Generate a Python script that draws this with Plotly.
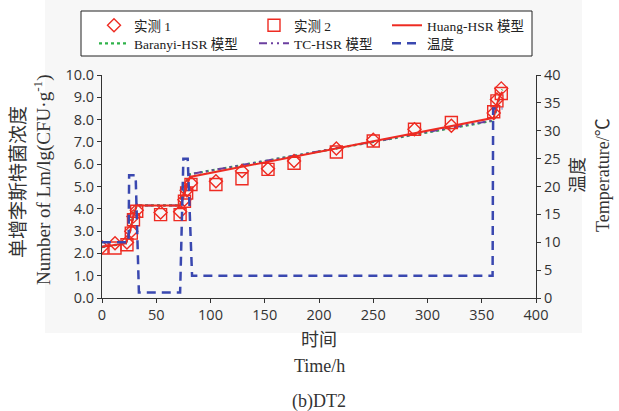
import plotly.graph_objects as go

# ---------------- data ----------------
t_obs = [0, 12, 23, 27, 29, 32, 54, 72, 76, 78, 82, 105, 129, 153, 177, 216, 250, 288, 322, 361, 364, 368]
obs1 = [2.28, 2.46, 2.49, 2.99, 3.66, 3.93, 3.83, 3.87, 4.41, 4.83, 5.16, 5.24, 5.69, 5.80, 6.14, 6.70, 7.10, 7.57, 7.72, 8.30, 8.90, 9.40]
obs2 = [2.24, 2.24, 2.39, 2.91, 3.51, 3.89, 3.74, 3.74, 4.34, 4.71, 5.09, 5.09, 5.35, 5.77, 6.04, 6.55, 7.04, 7.57, 7.87, 8.35, 8.84, 9.17]

t_model = [0, 22, 26, 29, 32, 72, 75, 78, 81, 361, 364, 367, 369]
huang = [2.30, 2.45, 3.00, 3.70, 4.15, 4.15, 4.50, 5.00, 5.43, 8.08, 8.70, 9.10, 9.25]
baranyi = [2.28, 2.45, 3.05, 3.75, 4.15, 4.15, 4.65, 5.25, 5.55, 7.95, 8.60, 9.15, 9.35]
tc = [2.30, 2.45, 3.00, 3.70, 4.15, 4.15, 4.60, 5.20, 5.55, 7.97, 8.60, 9.10, 9.30]

t_temp = [0, 24.5, 25, 31, 34, 72, 75, 79, 83, 360, 360.5, 369]
temp = [10, 10, 22, 22, 1, 1, 25, 25, 4, 4, 34, 34]

x_ticks = [0, 50, 100, 150, 200, 250, 300, 350, 400]

# ---------------- layout helpers (pixel -> paper) ----------------
W, H = 619, 411
L, R, T, B = 102, 83, 75, 113
PW, PH = W - L - R, H - T - B


def px(x):
    return (x - L) / PW


def py(y):
    return (H - B - y) / PH


RED = "#ee2b22"
GREEN = "#2fb24a"
PURPLE = "#6b3fa0"
BLUE = "#3a48b0"
SERIF = "Liberation Serif, Noto Sans CJK SC, serif"
SANS = "Open Sans, Liberation Sans, sans-serif"

fig = go.Figure()

fig.add_trace(go.Scatter(x=t_temp, y=temp, mode="lines", name="温度", yaxis="y2",
                         line=dict(color=BLUE, width=2.5, dash="9px,6px"),
                         legend="legend6"))
fig.add_trace(go.Scatter(x=t_model, y=baranyi, mode="lines", name="Baranyi-HSR 模型",
                         line=dict(color=GREEN, width=2.2, dash="dot"),
                         legend="legend4"))
fig.add_trace(go.Scatter(x=t_model, y=tc, mode="lines", name="TC-HSR 模型",
                         line=dict(color=PURPLE, width=2, dash="8px,4px,2px,4px,2px,4px"),
                         legend="legend5"))
fig.add_trace(go.Scatter(x=t_model, y=huang, mode="lines", name="Huang-HSR 模型",
                         line=dict(color=RED, width=2),
                         legend="legend3"))
fig.add_trace(go.Scatter(x=t_obs, y=obs1, mode="markers", name="实测 1",
                         marker=dict(symbol="diamond-open", size=10, color=RED, line=dict(width=1.4, color=RED)),
                         legend="legend"))
fig.add_trace(go.Scatter(x=t_obs, y=obs2, mode="markers", name="实测 2",
                         marker=dict(symbol="square-open", size=12, color=RED, line=dict(width=1.4, color=RED)),
                         legend="legend2"))

leg_common = dict(xanchor="left", yanchor="top", bgcolor="rgba(0,0,0,0)", borderwidth=0,
                  font=dict(family=SERIF, size=13.5, color="#222"), tracegroupgap=0,
                  orientation="v", itemwidth=30)

axis_common = dict(showline=True, linecolor="#333", linewidth=1, ticks="outside", ticklen=4,
                   tickcolor="#333", showgrid=False, zeroline=False,
                   tickfont=dict(family=SANS, size=14.5, color="#333"))

col_x = [94, 254, 387]
row_y = [10, 28]


def ann(text, x, y, size, angle=0):
    return dict(text=text, x=px(x), y=py(y), xref="paper", yref="paper", xanchor="center",
                yanchor="middle", textangle=angle, showarrow=False,
                font=dict(family=SERIF, size=size, color="#333"))


fig.update_layout(
    width=W, height=H,
    margin=dict(l=L, r=R, t=T, b=B, autoexpand=False),
    paper_bgcolor="white", plot_bgcolor="rgba(0,0,0,0)",
    showlegend=True,
    legend=dict(x=px(col_x[0]), y=py(row_y[0]), **leg_common),
    legend2=dict(x=px(col_x[1]), y=py(row_y[0]), **leg_common),
    legend3=dict(x=px(col_x[2]), y=py(row_y[0]), **leg_common),
    legend4=dict(x=px(col_x[0]), y=py(row_y[1]), **leg_common),
    legend5=dict(x=px(col_x[1]), y=py(row_y[1]), **leg_common),
    legend6=dict(x=px(col_x[2]), y=py(row_y[1]), **leg_common),
    xaxis=dict(range=[0, 400], tickvals=x_ticks, **axis_common),
    yaxis=dict(range=[0, 10], dtick=1, tickformat=".1f", **axis_common),
    yaxis2=dict(range=[0, 40], dtick=5, overlaying="y", side="right", **axis_common),
    shapes=[
        dict(type="rect", xref="paper", yref="paper", x0=px(45), x1=px(582), y0=py(333), y1=py(0),
             fillcolor="#f7f7f7", line=dict(width=0), layer="below"),
        dict(type="rect", xref="paper", yref="paper", x0=px(81), x1=px(532), y0=py(56), y1=py(11),
             fillcolor="white", line=dict(color="#222", width=1), layer="below"),
    ],
    annotations=[
        ann("单增李斯特菌浓度", 18, 182, 19, -90),
        ann("Number of Lm/lg(CFU·g<sup>-1</sup>)", 42, 180, 19, -90),
        ann("温度", 578, 175, 18, -90),
        ann("Temperature/℃", 603, 175, 18, -90),
        ann("时间", 319, 340, 18),
        ann("Time/h", 319, 366, 18),
        ann("(b)DT2", 319, 401, 18),
    ],
)

fig.write_html("out.html")
